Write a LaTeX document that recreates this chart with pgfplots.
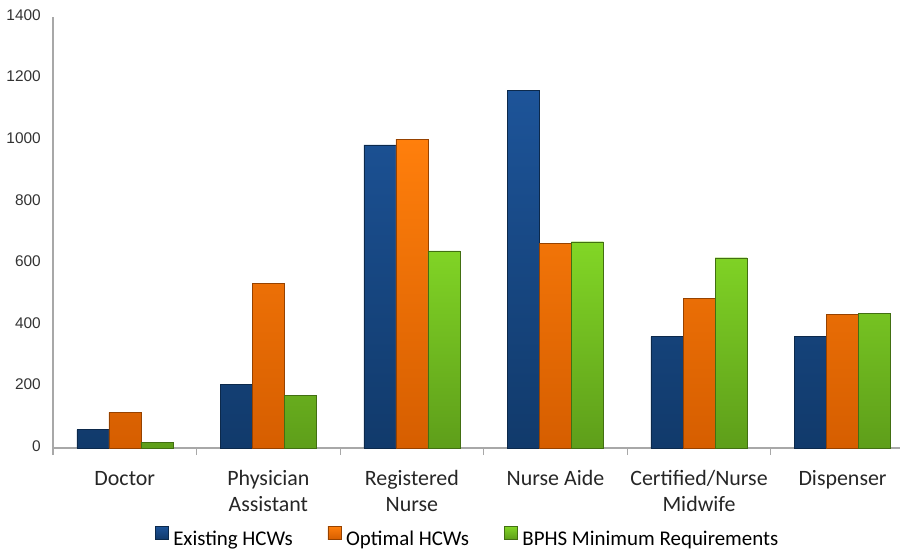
\documentclass[border=0pt]{standalone}
\usepackage{pgfplots}
\pgfplotsset{compat=1.18}
\usepackage{fontspec}
\setmainfont{Carlito}
\newfontfamily\arialfont{Liberation Sans}
\definecolor{bluetop}{HTML}{1D5499}
\definecolor{bluebot}{HTML}{113A6B}
\definecolor{orgtop}{HTML}{FF7F0C}
\definecolor{orgbot}{HTML}{D65E00}
\definecolor{grntop}{HTML}{82D626}
\definecolor{grnbot}{HTML}{5E9E1A}
\definecolor{axgray}{HTML}{A8A8A8}
\begin{document}
\begin{tikzpicture}[x=1bp,y=1bp]
\begin{axis}[
  at={(0,0)}, anchor=south west,
  scale only axis, width=847bp, height=431bp,
  xmin=-0.5, xmax=5.40, ymin=0, ymax=1400,
  ybar, bar width=0.223,
  axis x line=bottom, axis y line=left,
  axis line style={draw=axgray, line width=1.2bp, -},
  xtick={0,1,2,3,4,5},
  xticklabels={Doctor,{Physician\\Assistant},{Registered\\Nurse},Nurse Aide,{Certified/Nurse\\Midwife},Dispenser},
  minor xtick={-0.5,0.5,1.5,2.5,3.5,4.5},
  major tick length=0pt, minor tick length=7bp, tick align=outside,
  minor x tick style={draw=axgray, line width=1.2bp},
  typeset ticklabels with strut,
  xticklabel style={align=center, font=\fontsize{22}{26}\selectfont, inner sep=0pt, anchor=north, yshift=-18.8bp, text=black!85},
  ytick={0,200,400,600,800,1000,1200,1400},
  yticklabel style={font=\arialfont\fontsize{15.5}{17}\selectfont, inner sep=0pt, anchor=east, xshift=-12bp, text=black!80},
  /pgf/number format/assume math mode=true,
  /pgf/number format/1000 sep={},
  legend columns=-1,
  legend style={draw=none, fill=none, at={(0.4895,-0.208)}, anchor=center,
    font=\fontsize{21}{24}\selectfont,
    /tikz/every even column/.append style={column sep=33bp}},
]
\addplot[top color=bluetop, bottom color=bluebot, draw=bluebot!70!black, line width=0.4bp, bar shift=-0.223,
  legend image code/.code={\fill[top color=bluetop, bottom color=bluebot] (0bp,0bp) rectangle (13bp,13bp); \path (16bp,0bp);}]
  coordinates {(0,60) (1,207) (2,985) (3,1161) (4,362) (5,362)};
\addplot[top color=orgtop, bottom color=orgbot, draw=orgbot!70!black, line width=0.4bp, bar shift=0,
  legend image code/.code={\fill[top color=orgtop, bottom color=orgbot] (0bp,0bp) rectangle (13bp,13bp); \path (16bp,0bp);}]
  coordinates {(0,116) (1,534) (2,1003) (3,664) (4,485) (5,434)};
\addplot[top color=grntop, bottom color=grnbot, draw=grnbot!70!black, line width=0.4bp, bar shift=0.223,
  legend image code/.code={\fill[top color=grntop, bottom color=grnbot] (0bp,0bp) rectangle (13bp,13bp); \path (16bp,0bp);}]
  coordinates {(0,19) (1,171) (2,640) (3,670) (4,618) (5,438)};
\legend{Existing HCWs, Optimal HCWs, BPHS Minimum Requirements}
\end{axis}
\pgfresetboundingbox
\path[use as bounding box] (-53bp,-103bp) rectangle (856bp,448bp);
\end{tikzpicture}
\end{document}
